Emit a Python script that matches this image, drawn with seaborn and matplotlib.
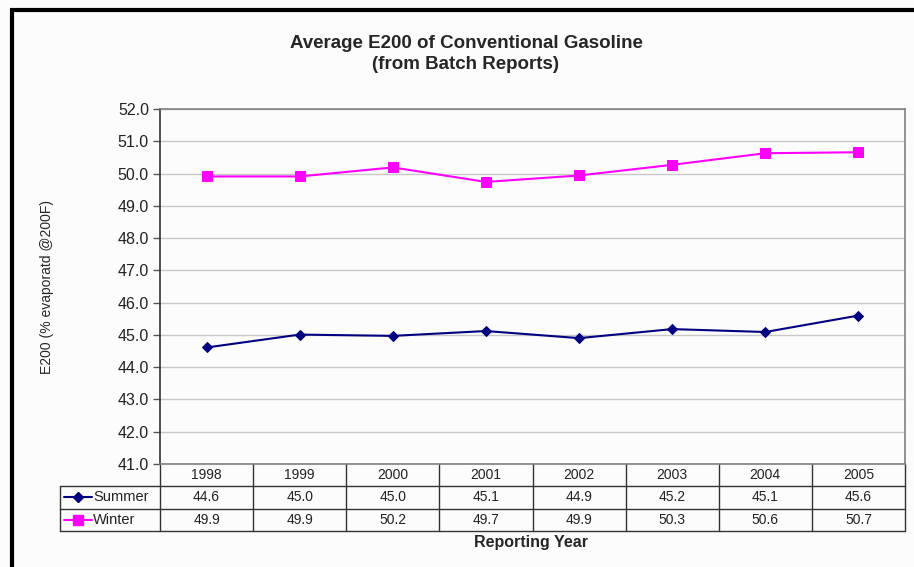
import pandas as pd
import matplotlib
matplotlib.use('Agg')
import matplotlib.pyplot as plt
import seaborn as sns
from matplotlib.lines import Line2D

years = ['1998', '1999', '2000', '2001', '2002', '2003', '2004', '2005']
summer = [44.61, 45.01, 44.97, 45.12, 44.90, 45.18, 45.09, 45.60]
winter = [49.91, 49.91, 50.19, 49.74, 49.94, 50.27, 50.63, 50.66]
series_names = ['Summer', 'Winter']
y_ticks = [41, 42, 43, 44, 45, 46, 47, 48, 49, 50, 51, 52]

sns.set_style('white')
plt.rcParams['font.family'] = ['Liberation Sans', 'DejaVu Sans']

df = pd.DataFrame({
    'pos': list(range(len(years))) * 2,
    'value': summer + winter,
    'season': ['Summer'] * len(years) + ['Winter'] * len(years),
})

colors = {'Summer': '#000080', 'Winter': '#ff00ff'}
markers = {'Summer': 'D', 'Winter': 's'}
msize = {'Summer': 5.5, 'Winter': 6.5}

fig = plt.figure(figsize=(9.14, 5.67), dpi=100)
fig.patch.set_facecolor('#fcfcfc')
W, H = 914, 567
ax = fig.add_axes([160 / W, 1 - 464 / H, 745 / W, 355 / H])
ax.set_facecolor('#fcfcfc')

for name in series_names:
    sub = df[df['season'] == name]
    sns.lineplot(data=sub, x='pos', y='value', ax=ax, color=colors[name],
                 marker=markers[name], markersize=msize[name], markeredgecolor=colors[name],
                 linewidth=1.5, legend=False)

ax.set_xlim(-0.5, len(years) - 0.5)
ax.set_ylim(41, 52)
ax.set_yticks(y_ticks)
ax.set_yticklabels([f'{t:.1f}' for t in y_ticks], fontsize=11.5, color='#222222')
ax.set_xticks([])
ax.set_xlabel('')
ax.set_ylabel('E200 (% evaporatd @200F)', fontsize=10, labelpad=46)
ax.yaxis.grid(True, color='#c8c8c8', linewidth=1)
ax.tick_params(axis='y', length=5, width=1, color='#555555', left=True, pad=3)
for side in ['top', 'right', 'bottom']:
    ax.spines[side].set_color('#808080')
    ax.spines[side].set_linewidth(1.2)
ax.spines['left'].set_color('#333333')
ax.spines['left'].set_linewidth(1.2)

# data table under the plot
n = len(years)
rh = 22.3 / 355
left_col = -100 / 745
tkw = dict(transform=ax.transAxes, clip_on=False, color='#333333', linewidth=1)
for k in range(1, 4):
    y = -k * rh
    ax.add_line(Line2D([left_col, 1], [y, y], **tkw))
for i in range(n + 1):
    ax.add_line(Line2D([i / n, i / n], [0, -3 * rh], **tkw))
ax.add_line(Line2D([left_col, left_col], [-rh, -3 * rh], **tkw))

rows = [years, [f'{v:.1f}' for v in summer], [f'{v:.1f}' for v in winter]]
for r, vals in enumerate(rows):
    yc = -(r + 0.5) * rh
    for i, v in enumerate(vals):
        ax.text((i + 0.5) / n, yc, v, transform=ax.transAxes, ha='center',
                va='center', fontsize=10, color='#222222')

for r, name in enumerate(series_names):
    yc = -(r + 1.5) * rh
    x0 = left_col + 4 / 745
    x1 = left_col + 32 / 745
    ax.add_line(Line2D([x0, x1], [yc, yc], transform=ax.transAxes, clip_on=False,
                       color=colors[name], linewidth=1.5))
    ax.add_line(Line2D([(x0 + x1) / 2], [yc], transform=ax.transAxes, clip_on=False,
                       color=colors[name], marker=markers[name], markersize=msize[name],
                       markeredgecolor=colors[name]))
    ax.text(x1 + 1 / 745, yc, name, transform=ax.transAxes, ha='left',
            va='center', fontsize=10.5, color='#222222')

fig.text(531 / W, 1 - 543 / H, 'Reporting Year', ha='center', va='center',
         fontsize=11.5, fontweight='bold')
fig.text(466 / W, 1 - 54 / H, 'Average E200 of Conventional Gasoline\n(from Batch Reports)',
         ha='center', va='center', fontsize=13.5, fontweight='bold', linespacing=1.25)

# black frame on top and left
fig.add_artist(Line2D([10 / W, 1], [1 - 10 / H, 1 - 10 / H], transform=fig.transFigure,
                      color='black', linewidth=3, solid_capstyle='butt'))
fig.add_artist(Line2D([12 / W, 12 / W], [0, 1 - 8 / H], transform=fig.transFigure,
                      color='black', linewidth=3, solid_capstyle='butt'))

fig.savefig('out.png', dpi=100, facecolor=fig.get_facecolor())
